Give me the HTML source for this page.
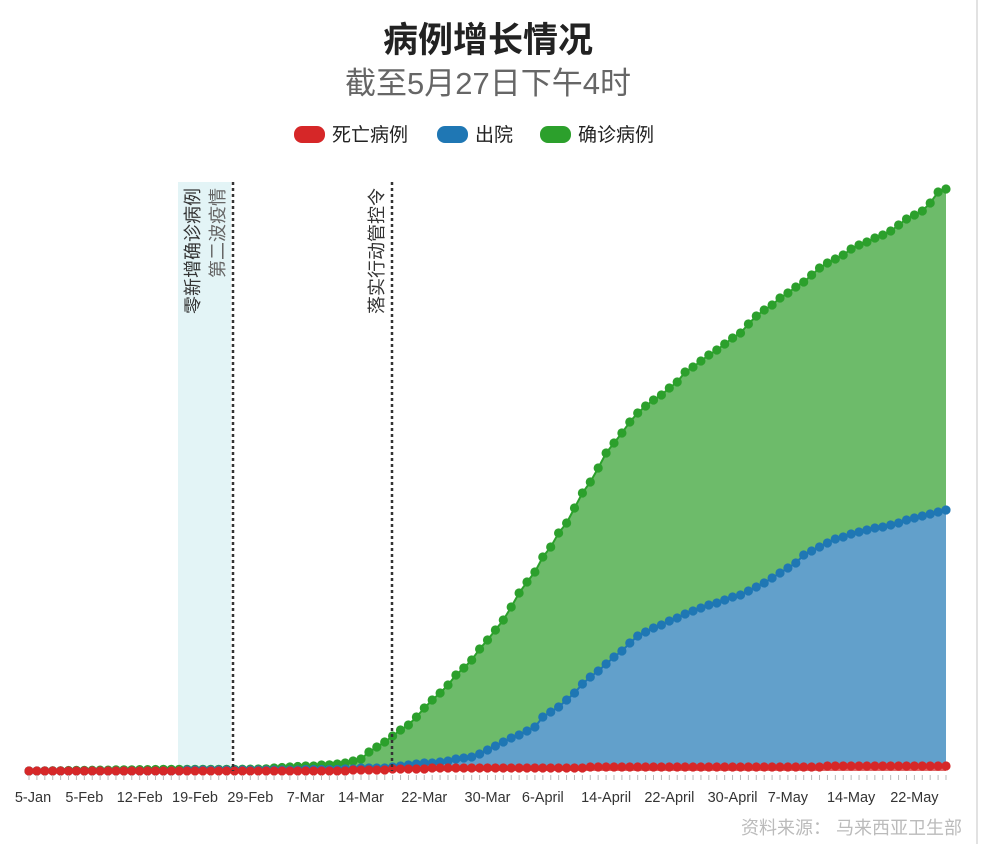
<!DOCTYPE html>
<html><head><meta charset="utf-8">
<style>
body{margin:0;background:#fff;font-family:"Liberation Sans","Noto Sans CJK SC",sans-serif;}
#wrap{position:relative;width:984px;height:844px;overflow:hidden;}
</style></head>
<body>
<div id="wrap">
<svg id="chart" width="984" height="844" style="position:absolute;left:0;top:0">
  <line x1="977" y1="0" x2="977" y2="844" stroke="#e2e2e2" stroke-width="2"/>
  <text x="488" y="52" text-anchor="middle" font-size="35" font-weight="bold" fill="#222" font-family="Liberation Sans, Noto Sans CJK SC, sans-serif">病例增长情况</text>
  <text x="488" y="94" text-anchor="middle" font-size="31" fill="#666" font-family="Liberation Sans, Noto Sans CJK SC, sans-serif">截至5月27日下午4时</text>
  <g font-size="19" fill="#222" font-family="Liberation Sans, Noto Sans CJK SC, sans-serif">
    <g><rect x="294" y="126" width="31" height="17" rx="8" fill="#d62728"/><text x="332" y="141">死亡病例</text></g>
    <g><rect x="437" y="126" width="31" height="17" rx="8" fill="#1f77b4"/><text x="475" y="141">出院</text></g>
    <g><rect x="540" y="126" width="31" height="17" rx="8" fill="#2ca02c"/><text x="578" y="141">确诊病例</text></g>
  </g>
  <rect x="178" y="182" width="53" height="589" fill="#e3f4f6"/>
  <g id="plot"></g>
  <line x1="233" y1="182" x2="233" y2="771" stroke="#333" stroke-width="2.5" stroke-dasharray="3,3"/>
  <line x1="392" y1="182" x2="392" y2="771" stroke="#333" stroke-width="2.5" stroke-dasharray="3,3"/>
  <g font-size="18" font-family="Liberation Sans, Noto Sans CJK SC, sans-serif">
    <text transform="translate(199,188) rotate(-90)" text-anchor="end" fill="#333">零新增确诊病例</text>
    <text transform="translate(224,188) rotate(-90)" text-anchor="end" fill="#666">第二波疫情</text>
    <text transform="translate(383,188) rotate(-90)" text-anchor="end" fill="#333">落实行动管控令</text>
  </g>
  <g id="xaxis"></g>
  <text x="962" y="834" text-anchor="end" font-size="18" fill="#bbb" font-family="Liberation Sans, Noto Sans CJK SC, sans-serif">资料来源：  马来西亚卫生部</text>
</svg>
</div>
<script>
const confirmed = [0,0,3,4,4,7,8,8,10,12,12,14,15,16,18,18,19,22,22,22,22,22,22,22,22,22,22,23,25,
26,29,39,45,52,58,65,65,78,80,91,104,130,156,
247,312,377,455,533,598,702,819,923,1014,1118,1248,1339,1443,1586,1703,1833,1963,2132,2314,
2457,2587,2782,2912,3094,3224,3419,3614,3757,3939,4134,4264,4394,4537,4654,4745,4823,4888,4979,5057,
5187,5252,5330,5408,5473,5551,5629,5694,5811,5915,5993,6058,6149,6214,6292,6357,6448,6539,6604,6656,
6708,6786,6838,6877,6929,6968,7020,7098,7176,7228,7280,7384,7527,7566];
const discharged = [0,0,0,0,0,0,0,0,0,0,0,0,0,0,0,0,0,0,0,0,
13,13,13,13,13,13,13,13,13,13,13,13,13,13,13,20,20,20,20,20,26,26,39,39,39,39,52,65,78,91,104,104,117,130,156,169,182,221,273,325,
377,429,468,520,572,702,767,832,923,1014,1131,1222,1300,1391,1482,1560,1664,1755,1807,1859,
1898,1950,1989,2041,2080,2119,2158,2184,2223,2262,2288,2340,2392,2444,2509,2574,2639,2704,2808,2860,
2912,2964,3016,3042,3081,3107,3133,3159,3172,3198,3224,3263,3289,3315,3341,3367,3393];
const deaths = [];
(function(){})();
const deathsRaw = [0,0,0,0,0,0,0,0,0,0,0,0,0,0,0,0,0,0,0,0,0,0,0,0,0,0,0,0,0,0,0,0,0,0,0,0,0,0,0,0,0,
13,13,13,13,13,26,26,26,26,26,39,39,39,39,39,39,39,39,39,39,39,39,39,39,39,39,39,39,39,39,
52,52,52,52,52,52,52,52,52,52,52,52,52,52,52,52,52,52,52,52,52,52,52,52,52,52,52,52,52,52,
65,65,65,65,65,65,65,65,65,65,65,65,65,65,65,65];
const tickLabels = ["5-Jan","5-Feb","12-Feb","19-Feb","29-Feb","7-Mar","14-Mar","22-Mar","30-Mar","6-April","14-April","22-April","30-April","7-May","14-May","22-May"];
const tickIndex = [0,7,14,21,28,35,42,50,58,65,73,81,89,96,104,112];

const NS="http://www.w3.org/2000/svg";
const N=confirmed.length;
const x0=29, x1=946, base=771, yTop=189, yMax=7566;
function xs(i){return x0+(x1-x0)*i/(N-1);}
function ys(v){return base-(base-yTop)*v/yMax;}
const plot=document.getElementById('plot');
function series(arr,fill,stroke,name){
  const g=document.createElementNS(NS,'g');
  
  
  let d='M'+xs(0)+','+base;
  arr.forEach((v,i)=>{d+=' L'+xs(i).toFixed(1)+','+ys(v).toFixed(1);});
  d+=' L'+xs(arr.length-1)+','+base+' Z';
  const area=document.createElementNS(NS,'path');
  area.setAttribute('d',d);area.setAttribute('fill',fill);
  
  
  g.appendChild(area);
  const line=document.createElementNS(NS,'polyline');
  line.setAttribute('points',arr.map((v,i)=>xs(i).toFixed(1)+','+ys(v).toFixed(1)).join(' '));
  line.setAttribute('fill','none');line.setAttribute('stroke',stroke);line.setAttribute('stroke-width','2');
  
  
  g.appendChild(line);
  arr.forEach((v,i)=>{
    const c=document.createElementNS(NS,'circle');
    c.setAttribute('cx',xs(i).toFixed(1));c.setAttribute('cy',ys(v).toFixed(1));
    c.setAttribute('r','4.6');c.setAttribute('fill',stroke);
    
    
    g.appendChild(c);
  });
  plot.appendChild(g);
}
series(confirmed,'#6dbb6a','#2ca02c','confirmed');
series(discharged,'#62a0cb','#1f77b4','discharged');
series(deathsRaw,'#e06a6a','#d62728','deaths');

const xa=document.getElementById('xaxis');
for(let i=0;i<N;i++){
  const t=document.createElementNS(NS,'line');
  t.setAttribute('x1',xs(i));t.setAttribute('x2',xs(i));t.setAttribute('y1',base+4);t.setAttribute('y2',base+9);
  t.setAttribute('stroke','#bbb');t.setAttribute('stroke-width','1');
  
  
  xa.appendChild(t);
}
tickLabels.forEach((lab,k)=>{
  const t=document.createElementNS(NS,'text');
  t.setAttribute('x',xs(tickIndex[k])+(k===0?4:0));t.setAttribute('y',802);
  t.setAttribute('text-anchor','middle');t.setAttribute('font-size','14.5');t.setAttribute('fill','#333');
  t.setAttribute('font-family','Liberation Sans, sans-serif');
  
  
  t.textContent=lab;
  xa.appendChild(t);
});
</script>
</body></html>
